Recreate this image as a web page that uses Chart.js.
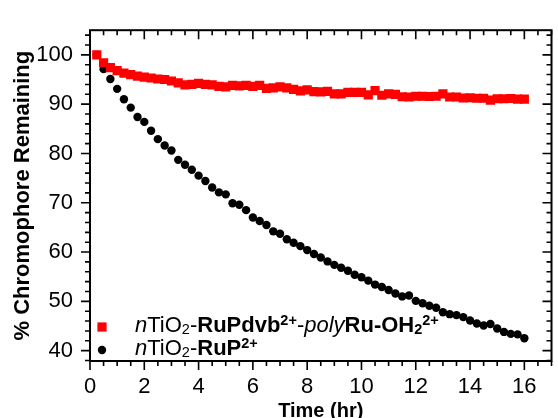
<!DOCTYPE html>
<html>
<head>
<meta charset="utf-8">
<script src="https://cdn.jsdelivr.net/npm/chart.js@4"></script>
<style>
  html, body { margin: 0; padding: 0; background: #fff; }
  #wrap { width: 558px; height: 418px; }
</style>
</head>
<body>
<div id="wrap"><canvas id="chart"></canvas></div>
<script>
// time points (hr)
const times = [
  0.25, 0.5, 0.75, 1, 1.25, 1.5, 1.75, 2, 2.25, 2.5, 2.75, 3, 3.25, 3.5, 3.75, 4,
  4.25, 4.5, 4.75, 5, 5.25, 5.5, 5.75, 6, 6.25, 6.5, 6.75, 7, 7.25, 7.5, 7.75, 8,
  8.25, 8.5, 8.75, 9, 9.25, 9.5, 9.75, 10, 10.25, 10.5, 10.75, 11, 11.25, 11.5, 11.75, 12,
  12.25, 12.5, 12.75, 13, 13.25, 13.5, 13.75, 14, 14.25, 14.5, 14.75, 15, 15.25, 15.5, 15.75, 16
];

// nTiO2-RuPdvb2+-polyRu-OH2 2+
const polyVals = [
  100, 98.4, 97.4, 96.8, 96.3, 96.0, 95.7, 95.5, 95.3, 95.1, 95.0, 94.7, 94.3, 93.9, 94.0, 94.2,
  94.0, 93.9, 93.6, 93.5, 93.8, 93.7, 93.8, 93.6, 93.8, 93.2, 93.3, 93.5, 93.3, 93.0, 92.7, 92.9,
  92.55, 92.5, 92.6, 92.1, 92.1, 92.4, 92.4, 92.4, 91.9, 92.75, 91.8, 92.1, 92.0, 91.5, 91.45, 91.6,
  91.6, 91.55, 91.6, 92.1, 91.45, 91.45, 91.25, 91.3, 91.2, 91.2, 90.8, 91.1, 91.1, 91.15, 91.0, 91.0
];

// nTiO2-RuP2+
const rupVals = [
  100, 97.1, 95.1, 93.1, 91.0, 89.3, 87.4, 86.4, 84.6, 82.9, 81.6, 80.6, 78.7, 77.7, 76.7, 75.5,
  74.4, 73.1, 72.1, 71.7, 69.9, 69.6, 68.5, 67.0, 66.3, 65.5, 64.2, 63.7, 62.6, 61.9, 61.2, 60.4,
  59.6, 58.9, 58.1, 57.4, 56.8, 56.2, 55.4, 54.9, 54.2, 53.4, 52.9, 52.3, 51.6, 51.0, 51.2, 50.1,
  49.6, 49.1, 48.7, 47.8, 47.4, 47.2, 46.8, 46.1, 45.5, 45.1, 45.4, 44.5, 43.8, 43.4, 43.3, 42.5
];

const xTickVals = [0, 2, 4, 6, 8, 10, 12, 14, 16];
const yTickVals = [40, 50, 60, 70, 80, 90, 100];

const FONT = '"Liberation Sans", Arial, Helvetica, sans-serif';
const X_MINOR = 0.5;
const Y_MINOR = 2;

// legend rows: [text, style, position]
const legendRows = [
  { style: 'rect', color: '#ff0000', radius: 6.5, parts: [
    ['n', 'italic'], ['TiO', ''], ['2', '', 'sub'], ['-', ''], ['RuPdvb', 'bold'], ['2+', 'bold', 'sup'],
    ['-', ''], ['poly', 'italic'], ['Ru-OH', 'bold'], ['2', 'bold', 'sub'], ['2+', 'bold', 'sup']
  ]},
  { style: 'circle', color: '#000000', radius: 4.2, parts: [
    ['n', 'italic'], ['TiO', ''], ['2', '', 'sub'], ['-', ''], ['RuP', 'bold'], ['2+', 'bold', 'sup']
  ]}
];

// frame with inward (top/right) and outward (left/bottom) ticks
const frameTicks = {
  id: 'frameTicks',
  afterDraw(chart) {
    const { ctx, chartArea: a, scales: { x, y } } = chart;
    ctx.save();
    ctx.strokeStyle = '#000';
    ctx.lineWidth = 1.6;
    ctx.beginPath();
    for (let v = x.min; v <= x.max + 1e-9; v += X_MINOR) {
      const px = x.getPixelForValue(v);
      const major = Math.abs(v / 2 - Math.round(v / 2)) < 1e-6;
      const len = major ? 9 : 5;
      ctx.moveTo(px, a.bottom); ctx.lineTo(px, a.bottom + len);
      ctx.moveTo(px, a.top); ctx.lineTo(px, a.top + len);
    }
    for (let v = 38; v <= y.max; v += Y_MINOR) {
      const py = y.getPixelForValue(v);
      const major = v % 10 === 0;
      const len = major ? 9 : 5;
      ctx.moveTo(a.left, py); ctx.lineTo(a.left - len, py);
      ctx.moveTo(a.right, py); ctx.lineTo(a.right - len, py);
    }
    ctx.stroke();
    ctx.lineWidth = 2;
    ctx.strokeRect(a.left, a.top, a.right - a.left, a.bottom - a.top);
    ctx.restore();
  }
};

const richLegend = {
  id: 'richLegend',
  afterDraw(chart) {
    const { ctx, chartArea: a } = chart;
    const size = 22;
    const small = 14.5;
    ctx.save();
    ctx.textBaseline = 'alphabetic';
    legendRows.forEach((row, i) => {
      const base = a.bottom - 29 + i * 23;
      const mx = a.left + 12;
      const my = base - 5;
      ctx.fillStyle = row.color;
      ctx.beginPath();
      if (row.style === 'rect') {
        const s = row.radius * Math.SQRT1_2;
        ctx.fillRect(mx - s, my - s, 2 * s, 2 * s);
      } else {
        ctx.arc(mx, my, row.radius, 0, Math.PI * 2);
        ctx.fill();
      }
      ctx.fillStyle = '#000';
      let cx = a.left + 45;
      row.parts.forEach(([txt, st, pos]) => {
        const fs = pos ? small : size;
        ctx.font = `${st} ${fs}px ${FONT}`;
        let dy = 0;
        if (pos === 'sub') dy = 2;
        if (pos === 'sup') dy = -7;
        ctx.fillText(txt, cx, base + dy);
        cx += ctx.measureText(txt).width;
      });
    });
    ctx.restore();
  }
};

new Chart(document.getElementById('chart'), {
  type: 'scatter',
  data: {
    datasets: [
      {
        label: 'nTiO2-RuPdvb2+-polyRu-OH2 2+',
        data: times.map((t, i) => ({ x: t, y: polyVals[i] })),
        pointStyle: 'rect',
        pointRadius: 6.5,
        pointBorderWidth: 0,
        backgroundColor: '#ff0000',
        borderColor: '#ff0000'
      },
      {
        label: 'nTiO2-RuP2+',
        data: times.map((t, i) => ({ x: t, y: rupVals[i] })),
        pointStyle: 'circle',
        pointRadius: 4.2,
        pointBorderWidth: 0,
        backgroundColor: '#000000',
        borderColor: '#000000'
      }
    ]
  },
  options: {
    responsive: true,
    maintainAspectRatio: false,
    animation: false,
    events: [],
    layout: { padding: { top: 15, right: 4, left: 0, bottom: 0 } },
    plugins: {
      legend: { display: false },
      tooltip: { enabled: false }
    },
    scales: {
      x: {
        type: 'linear',
        min: 0,
        max: 17,
        afterBuildTicks: s => { s.ticks = xTickVals.map(v => ({ value: v })); },
        afterFit: s => { s.height = 57; },
        grid: { display: false, drawTicks: false },
        border: { display: false },
        ticks: {
          padding: 13,
          color: '#000',
          maxRotation: 0,
          font: { family: FONT, size: 22 }
        },
        title: {
          display: true,
          text: 'Time (hr)',
          color: '#000',
          font: { family: FONT, size: 20, weight: 'bold' },
          padding: { top: 0, bottom: -5 }
        }
      },
      y: {
        type: 'linear',
        min: 37.9,
        max: 105,
        afterBuildTicks: s => { s.ticks = yTickVals.map(v => ({ value: v })); },
        afterFit: s => { s.width = 90; },
        grid: { display: false, drawTicks: false },
        border: { display: false },
        ticks: {
          padding: 17,
          color: '#000',
          font: { family: FONT, size: 22 }
        },
        title: {
          display: true,
          text: '% Chromophore Remaining',
          color: '#000',
          font: { family: FONT, size: 22, weight: 'bold' },
          padding: { top: 10, bottom: 0 }
        }
      }
    }
  },
  plugins: [frameTicks, richLegend]
});
</script>
</body>
</html>
